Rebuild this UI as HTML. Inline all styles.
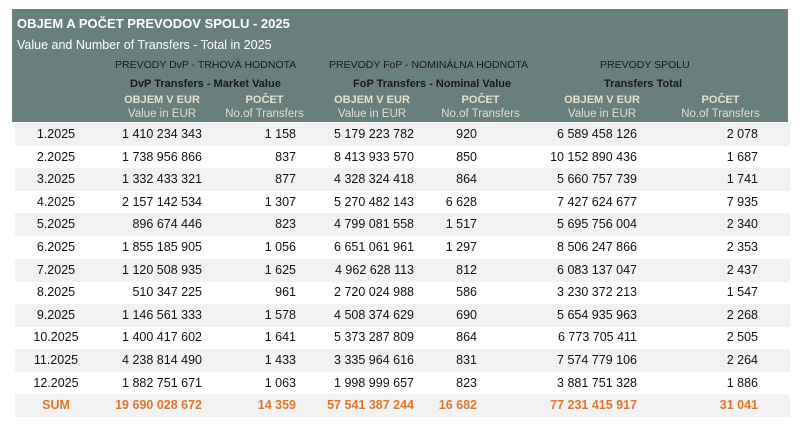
<!DOCTYPE html>
<html><head><meta charset="utf-8"><style>
body{margin:0;width:802px;height:425px;background:#fff;position:relative;overflow:hidden;font-family:"Liberation Sans",sans-serif;}
.hd{position:absolute;left:12px;top:9px;width:776px;height:113px;background:#687f7d;}
.t{position:absolute;white-space:nowrap;font-size:12px;line-height:14px;}
.row{position:absolute;left:15px;width:775px;height:23px;}
.g{background:#f2f2f2;}
.c{position:absolute;font-size:12.5px;line-height:23px;color:#111;white-space:nowrap;}
.s .c{color:#e2752e;font-weight:bold;}
.h1{color:#e3dfd0;font-size:11px;font-weight:bold;top:93px;text-align:center;}
.h2{color:#e3dfd0;font-size:11.5px;top:107px;text-align:center;}
</style></head><body>
<div class="hd"></div>
<div class="t" style="left:17px;top:17px;color:#fff;font-weight:bold;font-size:13px;">OBJEM A POČET PREVODOV SPOLU - 2025</div>
<div class="t" style="left:17px;top:38px;color:#fff;font-size:12.5px;">Value and Number of Transfers - Total in 2025</div>
<div class="t" style="left:115px;top:58px;color:#1a1a1a;font-size:10.5px;">PREVODY DvP - TRHOVÁ HODNOTA</div>
<div class="t" style="left:130px;top:77px;color:#1a1a1a;font-size:11px;font-weight:bold;">DvP Transfers - Market Value</div>
<div class="t" style="left:329px;top:58px;color:#1a1a1a;font-size:10.5px;">PREVODY FoP - NOMINÁLNA HODNOTA</div>
<div class="t" style="left:353px;top:77px;color:#1a1a1a;font-size:11px;font-weight:bold;">FoP Transfers - Nominal Value</div>
<div class="t" style="left:600px;top:58px;color:#1a1a1a;font-size:10.5px;">PREVODY SPOLU</div>
<div class="t" style="left:604px;top:77px;color:#1a1a1a;font-size:11px;font-weight:bold;">Transfers Total</div>
<div class="t h1" style="left:102px;width:120px;">OBJEM V EUR</div>
<div class="t h2" style="left:102px;width:120px;">Value in EUR</div>
<div class="t h1" style="left:212px;width:105px;">POČET</div>
<div class="t h2" style="left:212px;width:105px;">No.of Transfers</div>
<div class="t h1" style="left:312px;width:120px;">OBJEM V EUR</div>
<div class="t h2" style="left:312px;width:120px;">Value in EUR</div>
<div class="t h1" style="left:428px;width:105px;">POČET</div>
<div class="t h2" style="left:428px;width:105px;">No.of Transfers</div>
<div class="t h1" style="left:542px;width:120px;">OBJEM V EUR</div>
<div class="t h2" style="left:542px;width:120px;">Value in EUR</div>
<div class="t h1" style="left:668px;width:105px;">POČET</div>
<div class="t h2" style="left:668px;width:105px;">No.of Transfers</div>
<div class="row g" style="top:123px"><span class="c" style="left:0;width:82px;text-align:center">1.2025</span><span class="c" style="right:588px">1 410 234 343</span><span class="c" style="right:494px">1 158</span><span class="c" style="right:376px">5 179 223 782</span><span class="c" style="right:313px">920</span><span class="c" style="right:153px">6 589 458 126</span><span class="c" style="right:32px">2 078</span></div>
<div class="row" style="top:145.6px"><span class="c" style="left:0;width:82px;text-align:center">2.2025</span><span class="c" style="right:588px">1 738 956 866</span><span class="c" style="right:494px">837</span><span class="c" style="right:376px">8 413 933 570</span><span class="c" style="right:313px">850</span><span class="c" style="right:153px">10 152 890 436</span><span class="c" style="right:32px">1 687</span></div>
<div class="row g" style="top:168.2px"><span class="c" style="left:0;width:82px;text-align:center">3.2025</span><span class="c" style="right:588px">1 332 433 321</span><span class="c" style="right:494px">877</span><span class="c" style="right:376px">4 328 324 418</span><span class="c" style="right:313px">864</span><span class="c" style="right:153px">5 660 757 739</span><span class="c" style="right:32px">1 741</span></div>
<div class="row" style="top:190.8px"><span class="c" style="left:0;width:82px;text-align:center">4.2025</span><span class="c" style="right:588px">2 157 142 534</span><span class="c" style="right:494px">1 307</span><span class="c" style="right:376px">5 270 482 143</span><span class="c" style="right:313px">6 628</span><span class="c" style="right:153px">7 427 624 677</span><span class="c" style="right:32px">7 935</span></div>
<div class="row g" style="top:213.4px"><span class="c" style="left:0;width:82px;text-align:center">5.2025</span><span class="c" style="right:588px">896 674 446</span><span class="c" style="right:494px">823</span><span class="c" style="right:376px">4 799 081 558</span><span class="c" style="right:313px">1 517</span><span class="c" style="right:153px">5 695 756 004</span><span class="c" style="right:32px">2 340</span></div>
<div class="row" style="top:236px"><span class="c" style="left:0;width:82px;text-align:center">6.2025</span><span class="c" style="right:588px">1 855 185 905</span><span class="c" style="right:494px">1 056</span><span class="c" style="right:376px">6 651 061 961</span><span class="c" style="right:313px">1 297</span><span class="c" style="right:153px">8 506 247 866</span><span class="c" style="right:32px">2 353</span></div>
<div class="row g" style="top:258.6px"><span class="c" style="left:0;width:82px;text-align:center">7.2025</span><span class="c" style="right:588px">1 120 508 935</span><span class="c" style="right:494px">1 625</span><span class="c" style="right:376px">4 962 628 113</span><span class="c" style="right:313px">812</span><span class="c" style="right:153px">6 083 137 047</span><span class="c" style="right:32px">2 437</span></div>
<div class="row" style="top:281.2px"><span class="c" style="left:0;width:82px;text-align:center">8.2025</span><span class="c" style="right:588px">510 347 225</span><span class="c" style="right:494px">961</span><span class="c" style="right:376px">2 720 024 988</span><span class="c" style="right:313px">586</span><span class="c" style="right:153px">3 230 372 213</span><span class="c" style="right:32px">1 547</span></div>
<div class="row g" style="top:303.8px"><span class="c" style="left:0;width:82px;text-align:center">9.2025</span><span class="c" style="right:588px">1 146 561 333</span><span class="c" style="right:494px">1 578</span><span class="c" style="right:376px">4 508 374 629</span><span class="c" style="right:313px">690</span><span class="c" style="right:153px">5 654 935 963</span><span class="c" style="right:32px">2 268</span></div>
<div class="row" style="top:326.4px"><span class="c" style="left:0;width:82px;text-align:center">10.2025</span><span class="c" style="right:588px">1 400 417 602</span><span class="c" style="right:494px">1 641</span><span class="c" style="right:376px">5 373 287 809</span><span class="c" style="right:313px">864</span><span class="c" style="right:153px">6 773 705 411</span><span class="c" style="right:32px">2 505</span></div>
<div class="row g" style="top:349px"><span class="c" style="left:0;width:82px;text-align:center">11.2025</span><span class="c" style="right:588px">4 238 814 490</span><span class="c" style="right:494px">1 433</span><span class="c" style="right:376px">3 335 964 616</span><span class="c" style="right:313px">831</span><span class="c" style="right:153px">7 574 779 106</span><span class="c" style="right:32px">2 264</span></div>
<div class="row" style="top:371.6px"><span class="c" style="left:0;width:82px;text-align:center">12.2025</span><span class="c" style="right:588px">1 882 751 671</span><span class="c" style="right:494px">1 063</span><span class="c" style="right:376px">1 998 999 657</span><span class="c" style="right:313px">823</span><span class="c" style="right:153px">3 881 751 328</span><span class="c" style="right:32px">1 886</span></div>
<div class="row g s" style="top:394.2px"><span class="c" style="left:0;width:82px;text-align:center">SUM</span><span class="c" style="right:588px">19 690 028 672</span><span class="c" style="right:494px">14 359</span><span class="c" style="right:376px">57 541 387 244</span><span class="c" style="right:313px">16 682</span><span class="c" style="right:153px">77 231 415 917</span><span class="c" style="right:32px">31 041</span></div>
</body></html>
